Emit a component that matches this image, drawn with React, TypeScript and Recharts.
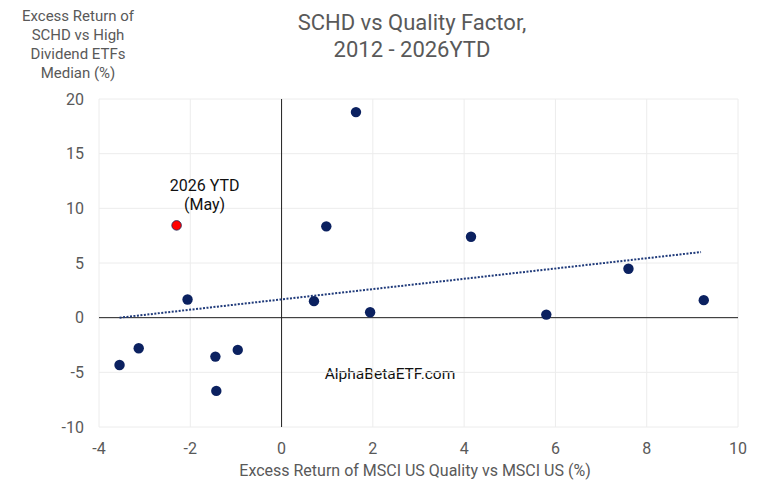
import { ScatterChart, Scatter, XAxis, YAxis, CartesianGrid, ReferenceLine, LabelList } from "recharts"

// Yearly points, 2012 - 2025 (excess returns in %)
const qualityExcess = [1.63, 0.98, 4.15, 7.6, 9.25, -2.06, 0.71, 1.94, 5.8, -3.13, -3.55, -0.96, -1.45, -1.43]
const schdExcess = [18.8, 8.35, 7.4, 4.47, 1.6, 1.66, 1.51, 0.5, 0.28, -2.8, -4.33, -2.95, -3.56, -6.7]

// 2026 YTD point
const ytdX = [-2.3]
const ytdY = [8.44]

// dotted trend line endpoints
const trendX = [-3.55, 9.19]
const trendY = [0, 6.0]

const xTicks = [-4, -2, 0, 2, 4, 6, 8, 10]
const yTicks = [-10, -5, 0, 5, 10, 15, 20]

const points = qualityExcess.map((x, i) => ({ x, y: schdExcess[i] }))
const ytd = ytdX.map((x, i) => ({ x, y: ytdY[i] }))
const trend = trendX.map((x, i) => ({ x, y: trendY[i] }))

const gray = "#595959"
const navy = "#0b2160"
const font = "Roboto, sans-serif"

const YtdLabel = (props: any) => {
  const { x, y, width } = props
  const cx = x + width / 2 + 28
  return (
    <g>
      <text x={cx} y={y - 30} textAnchor="middle" fontSize={16} fill="#111" fontFamily={font}>2026 YTD</text>
      <text x={cx} y={y - 11} textAnchor="middle" fontSize={16} fill="#111" fontFamily={font}>(May)</text>
    </g>
  )
}

export default function App() {
  return (
    <div style={{ position: "absolute", left: 0, top: 0, width: 768, height: 490, background: "#fff", fontFamily: font }}>
      <div style={{ position: "absolute", left: 212, width: 400, top: 9, textAlign: "center", fontSize: 22, lineHeight: "27px", color: gray }}>
        SCHD vs Quality Factor,
        <br />
        2012 - 2026YTD
      </div>
      <div style={{ position: "absolute", left: 0, width: 156, top: 7, textAlign: "center", fontSize: 15, lineHeight: "19px", color: gray }}>
        Excess Return of
        <br />
        SCHD vs High
        <br />
        Dividend ETFs
        <br />
        Median (%)
      </div>
      <div style={{ position: "absolute", left: 0, width: 830, top: 461, textAlign: "center", fontSize: 16, color: gray }}>
        Excess Return of MSCI US Quality vs MSCI US (%)
      </div>
      <div style={{ position: "absolute", left: 290, width: 200, top: 365, textAlign: "center", fontSize: 15.5, color: "#111" }}>
        AlphaBetaETF.com
      </div>
      <ScatterChart width={768} height={490} margin={{ top: 99, right: 30, bottom: 0, left: 0 }}>
        <CartesianGrid stroke="#ececec" />
        <XAxis
          type="number"
          dataKey="x"
          domain={[-4, 10]}
          ticks={xTicks}
          axisLine={false}
          tickLine={false}
          tickSize={0}
          tickMargin={16}
          height={63}
          tick={{ fill: gray, fontSize: 16, fontFamily: font }}
        />
        <YAxis
          type="number"
          dataKey="y"
          domain={[-10, 20]}
          ticks={yTicks}
          axisLine={false}
          tickLine={false}
          tickSize={0}
          tickMargin={15}
          width={99}
          tick={{ fill: gray, fontSize: 16, fontFamily: font }}
        />
        <ReferenceLine x={0} stroke="#222" strokeWidth={1} />
        <ReferenceLine y={0} stroke="#222" strokeWidth={1} />
        <Scatter
          data={trend}
          line={{ stroke: "#1f3a7a", strokeWidth: 2, strokeDasharray: "2 1.5" }}
          shape={() => <g />}
          isAnimationActive={false}
        />
        <Scatter
          data={points}
          shape={(p: any) => <circle cx={p.cx} cy={p.cy} r={5.2} fill={navy} />}
          isAnimationActive={false}
        />
        <Scatter
          data={ytd}
          shape={(p: any) => <circle cx={p.cx} cy={p.cy} r={4.8} fill="#ff0000" stroke="#1a2a5a" strokeWidth={0.8} />}
          isAnimationActive={false}
        >
          <LabelList dataKey="y" content={YtdLabel} />
        </Scatter>
      </ScatterChart>
    </div>
  )
}
